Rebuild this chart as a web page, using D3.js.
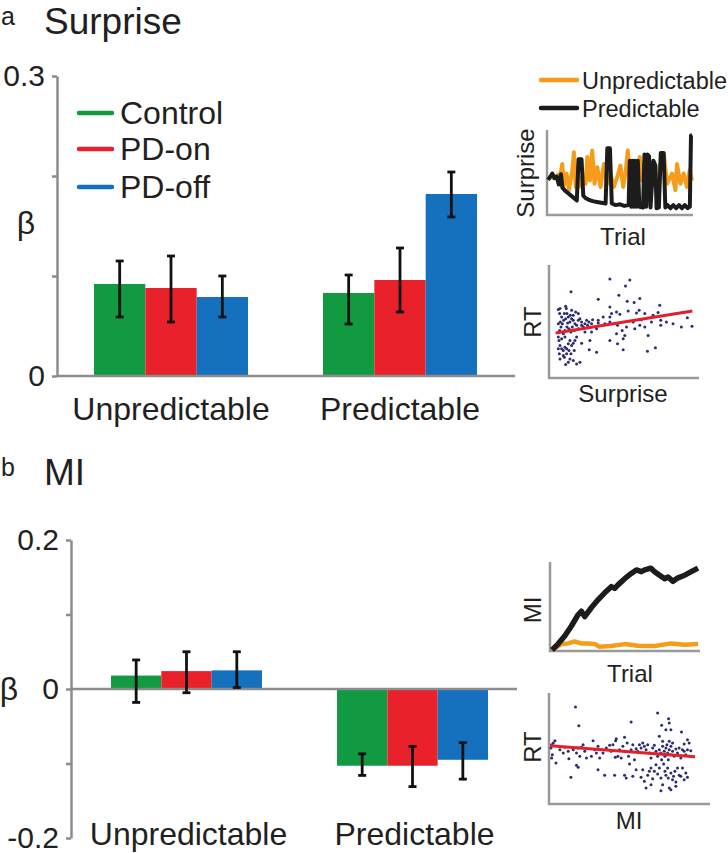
<!DOCTYPE html>
<html lang="en">

<head>
  <meta charset="UTF-8">
  <script src="https://cdn.jsdelivr.net/npm/d3@7"></script>
  <title>Surprise and MI</title>
  <style>
    body { margin: 0; background: #fff; }
    svg { display: block; font-family: "Liberation Sans", Arial, sans-serif; }
    text { fill: #231f20; }
  </style>
</head>

<body>
  <svg width="728" height="853"></svg>
  <script>
    var groups = ["Control", "PD-on", "PD-off"];
    var conditions = ["Unpredictable", "Predictable"];
    var groupColors = ["#129a42", "#e8212a", "#1571bd"];

    // beta per condition (rows) and group (cols), with error bar ends
    var surpriseBeta = [[0.092, 0.088, 0.079], [0.083, 0.096, 0.182]];
    var surpriseLow = [[0.059, 0.054, 0.059], [0.052, 0.064, 0.159]];
    var surpriseHigh = [[0.115, 0.120, 0.100], [0.101, 0.128, 0.204]];
    var surpriseTicks = [0, 0.1, 0.2, 0.3];
    var surpriseTickLabels = [0, 0.3];

    var miBeta = [[0.018, 0.024, 0.025], [-0.103, -0.103, -0.095]];
    var miLow = [[-0.018, -0.005, 0.002], [-0.116, -0.131, -0.121]];
    var miHigh = [[0.039, 0.050, 0.050], [-0.087, -0.077, -0.072]];
    var miTicks = [-0.2, -0.1, 0, 0.1, 0.2];
    var miTickLabels = [-0.2, 0, 0.2];

    // example surprise trace (trial 0-100, surprise 0-1)
    var surpUnpTrial = [0, 4.2, 8.8, 9.9, 11.1, 12.9, 14.5, 16.9, 18, 19.2, 20.3, 21.5, 23.8, 26.1, 27.3, 29.1, 30.7, 32.3, 34.2, 36.5, 38.8, 41.1, 43.4, 45.7, 48, 50.3, 52.2, 53.8, 55.4, 57.3, 59.6, 61.9, 63.7, 65.4, 66.5, 68.8, 71.1, 73.4, 75.8, 78.1, 80.4, 82.7, 86.1, 88.5, 89.6, 91.9, 94.2, 96.5, 98.4, 100];
    var surpUnpVal = [0.45, 0.45, 0.50, 0.62, 0.35, 0.50, 0.29, 0.54, 0.77, 0.33, 0.58, 0.33, 0.45, 0.37, 0.71, 0.41, 0.79, 0.37, 0.58, 0.33, 0.62, 0.37, 0.50, 0.33, 0.45, 0.60, 0.33, 0.50, 0.79, 0.33, 0.45, 0.33, 0.71, 0.41, 0.62, 0.33, 0.50, 0.37, 0.29, 0.62, 0.75, 0.37, 0.50, 0.29, 0.62, 0.37, 0.50, 0.33, 0.54, 0.41];
    var surpPredTrial = [0, 2, 3, 4.5, 6, 7.5, 9, 10, 12, 14, 16, 18, 20, 21.2, 23.3, 24.5, 26, 28, 31, 34, 37, 40, 41.2, 43, 44.3, 47, 50, 53, 56, 56.8, 57.8, 58.6, 59.6, 60.4, 61.4, 62.4, 63.4, 66, 67, 68.2, 69, 70.2, 71.2, 73.2, 74.6, 75.4, 77, 78.3, 80.3, 81.5, 83, 85, 87, 89, 91, 93, 95, 97, 98.5, 99.3, 100];
    var surpPredVal = [0.42, 0.47, 0.50, 0.44, 0.46, 0.36, 0.49, 0.32, 0.28, 0.25, 0.22, 0.19, 0.16, 0.68, 0.68, 0.22, 0.19, 0.17, 0.15, 0.14, 0.13, 0.12, 0.82, 0.82, 0.12, 0.10, 0.11, 0.09, 0.10, 0.66, 0.08, 0.66, 0.08, 0.66, 0.08, 0.66, 0.08, 0.07, 0.74, 0.08, 0.74, 0.72, 0.07, 0.66, 0.60, 0.06, 0.07, 0.76, 0.76, 0.07, 0.10, 0.06, 0.10, 0.06, 0.10, 0.06, 0.10, 0.06, 0.08, 0.98, 0.98];

    // example MI trace
    var miPredTrial = [0, 4.1, 8.7, 13.2, 17.8, 20.1, 22.4, 26.9, 31.5, 36.1, 40.6, 42.9, 45.2, 49.8, 54.3, 57.8, 61.2, 63.5, 67.6, 70.3, 73.7, 77.2, 79.5, 82.9, 86.3, 90.9, 95.4, 100];
    var miPredVal = [0, 0.067, 0.16, 0.27, 0.40, 0.44, 0.38, 0.48, 0.57, 0.65, 0.72, 0.70, 0.74, 0.81, 0.87, 0.91, 0.89, 0.91, 0.93, 0.89, 0.85, 0.81, 0.83, 0.78, 0.82, 0.85, 0.89, 0.93];
    var miUnpTrial = [0, 6.4, 11, 15.5, 20.1, 24.7, 29.2, 32.6, 40.6, 49.8, 58.9, 70.3, 81.7, 90.9, 100];
    var miUnpVal = [0, 0.067, 0.075, 0.097, 0.075, 0.075, 0.067, 0.037, 0.045, 0.067, 0.049, 0.045, 0.075, 0.06, 0.067];

    // RT vs surprise scatter (arbitrary units)
    var scatSurpX = [183, 243, 230, 66, 210, 148, 235, 256, 273, 333, 183, 203, 213, 238, 263, 271, 288, 313, 328, 336, 353, 373, 398, 416, 430, 288, 273, 258, 233, 220, 206, 183, 183, 168, 163, 148, 143, 128, 123, 121, 143, 183, 203, 206, 223, 228, 223, 298, 296, 320, 336, 253, 278, 308, 188, 148, 131, 113, 108, 103, 98, 93, 83, 73, 63, 58, 50, 46, 33, 31, 28, 33, 38, 43, 48, 53, 58, 63, 68, 73, 78, 83, 60, 66, 76, 53, 43, 30, 38, 48, 28, 32, 36, 40, 44, 50, 54, 58, 63, 68, 73, 78, 83, 88, 93, 98, 88, 76, 70, 66, 60, 54, 48, 43, 34, 38, 32, 28, 33, 50, 52, 68, 80, 88, 56, 64, 73, 46, 98, 108, 116, 120, 128, 28];
    var scatSurpRT = [295, 292, 274, 257, 247, 235, 229, 225, 237, 217, 212, 197, 190, 200, 194, 202, 192, 187, 195, 172, 167, 162, 152, 180, 154, 152, 157, 147, 152, 142, 157, 167, 182, 162, 182, 164, 147, 137, 112, 84, 77, 112, 132, 102, 117, 127, 84, 127, 80, 90, 157, 167, 174, 167, 192, 172, 174, 172, 162, 152, 104, 47, 42, 52, 57, 47, 40, 62, 57, 72, 87, 97, 87, 82, 92, 87, 102, 112, 97, 104, 112, 122, 82, 72, 82, 72, 67, 112, 117, 122, 122, 142, 152, 162, 172, 177, 192, 182, 167, 177, 172, 162, 157, 172, 177, 167, 147, 142, 152, 137, 147, 152, 142, 132, 167, 182, 192, 204, 207, 214, 207, 202, 197, 192, 164, 187, 187, 192, 157, 137, 157, 167, 162, 162];
    var fitSurpX = [20, 431];
    var fitSurpRT = [134, 200];

    // RT vs MI scatter (arbitrary units)
    var scatMiX = [80, 328, 248, 90, 340, 361, 363, 353, 368, 400, 333, 343, 363, 373, 418, 408, 423, 203, 201, 228, 133, 18, 13, 8, 6, 10, 8, 21, 33, 43, 48, 58, 60, 73, 83, 88, 93, 98, 103, 108, 113, 128, 138, 143, 148, 153, 163, 173, 183, 188, 193, 200, 208, 213, 218, 223, 228, 236, 240, 243, 248, 253, 258, 263, 268, 273, 278, 283, 288, 293, 298, 303, 308, 313, 318, 323, 328, 333, 338, 340, 343, 348, 350, 353, 356, 358, 360, 363, 366, 368, 373, 378, 383, 388, 393, 398, 403, 408, 413, 418, 428, 83, 88, 66, 148, 168, 198, 228, 233, 253, 263, 278, 283, 288, 293, 298, 303, 308, 313, 318, 323, 328, 333, 338, 343, 346, 350, 353, 358, 360, 363, 368, 373, 376, 380, 383, 388, 393, 398, 403, 408, 413, 418, 368, 338, 308, 383];
    var scatMiRT = [291, 273, 246, 235, 236, 256, 243, 223, 223, 216, 203, 188, 188, 183, 193, 180, 183, 196, 190, 200, 190, 190, 183, 178, 168, 148, 138, 123, 163, 153, 170, 158, 136, 163, 153, 168, 143, 170, 178, 158, 138, 143, 163, 153, 173, 138, 153, 168, 176, 158, 178, 140, 143, 163, 138, 173, 158, 183, 143, 120, 163, 178, 133, 166, 158, 178, 168, 183, 173, 163, 178, 153, 138, 168, 176, 158, 143, 163, 153, 133, 173, 158, 143, 168, 178, 153, 133, 163, 148, 173, 158, 143, 165, 153, 168, 138, 163, 158, 148, 163, 160, 116, 110, 80, 103, 86, 86, 86, 78, 83, 103, 80, 103, 68, 48, 86, 98, 108, 76, 98, 118, 90, 108, 78, 58, 120, 98, 86, 108, 78, 48, 93, 73, 83, 98, 66, 108, 86, 83, 108, 73, 93, 80, 43, 40, 58, 53];
    var fitMiX = [3, 441];
    var fitMiRT = [175, 142];

    var svg = d3.select("svg");
    var axisGray = "#8c8c8c";

    function barPanel(o) {
      var y = d3.scaleLinear().domain(o.domain).range(o.yRange);
      var x0 = d3.scaleBand().domain(conditions).range(o.xRange)
        .paddingInner(o.padIn).paddingOuter(o.padOut);
      var x1 = d3.scaleBand().domain(groups).range([0, x0.bandwidth()]);

      var bars = svg.append("g");
      conditions.forEach(function (c, ci) {
        groups.forEach(function (g, gi) {
          var v = o.beta[ci][gi];
          bars.append("rect")
            .attr("x", x0(c) + x1(g))
            .attr("y", Math.min(y(v), y(0)))
            .attr("width", x1.bandwidth())
            .attr("height", Math.abs(y(v) - y(0)))
            .attr("fill", groupColors[gi]);
        });
      });

      var axis = d3.axisLeft(y).tickValues(o.ticks).tickSize(5).tickSizeOuter(0).tickPadding(7)
        .tickFormat(function (d) { return o.tickLabels.indexOf(d) >= 0 ? String(d) : ""; });
      var ax = svg.append("g").attr("transform", "translate(" + o.axisX + ",0)").call(axis);
      ax.select(".domain").attr("stroke", axisGray).attr("stroke-width", 2.5);
      ax.selectAll(".tick line").attr("stroke", axisGray).attr("stroke-width", 2.5);
      ax.selectAll(".tick text").attr("font-size", 30).attr("fill", "#231f20")
        .attr("font-family", "Liberation Sans, Arial, sans-serif");

      svg.append("line")
        .attr("x1", o.axisX).attr("x2", o.baseEnd)
        .attr("y1", y(0)).attr("y2", y(0))
        .attr("stroke", axisGray).attr("stroke-width", 2.5);

      var err = svg.append("g").attr("stroke", "#111").attr("stroke-width", 2.8);
      conditions.forEach(function (c, ci) {
        groups.forEach(function (g, gi) {
          var cx = x0(c) + x1(g) + x1.bandwidth() / 2;
          var lo = y(o.low[ci][gi]), hi = y(o.high[ci][gi]);
          err.append("line").attr("x1", cx).attr("x2", cx).attr("y1", lo).attr("y2", hi);
          err.append("line").attr("x1", cx - 4).attr("x2", cx + 4).attr("y1", lo).attr("y2", lo);
          err.append("line").attr("x1", cx - 4).attr("x2", cx + 4).attr("y1", hi).attr("y2", hi);
        });
      });

      conditions.forEach(function (c) {
        svg.append("text")
          .attr("x", x0(c) + x0.bandwidth() / 2 + o.labelShift)
          .attr("y", o.labelY)
          .attr("text-anchor", "middle")
          .attr("font-size", 32)
          .text(c);
      });

      svg.append("text").attr("x", o.betaX).attr("y", o.betaY)
        .attr("text-anchor", "middle").attr("font-size", 32).text("β");
    }

    function title(letter, name, y) {
      svg.append("text").attr("x", 1).attr("y", y - 9).attr("font-size", 25).text(letter);
      svg.append("text").attr("x", 44).attr("y", y).attr("font-size", 37).text(name);
    }

    function axesL(x, top, bottom, right) {
      svg.append("path")
        .attr("d", "M" + x + "," + top + "V" + bottom + "H" + right)
        .attr("fill", "none").attr("stroke", "#9a9a9a").attr("stroke-width", 2.5);
    }

    function sideLabel(text, x, y) {
      svg.append("text")
        .attr("transform", "translate(" + x + "," + y + ") rotate(-90)")
        .attr("text-anchor", "middle").attr("font-size", 24).text(text);
    }

    function bottomLabel(text, x, y) {
      svg.append("text").attr("x", x).attr("y", y)
        .attr("text-anchor", "middle").attr("font-size", 24).text(text);
    }

    function traceInset(o) {
      axesL(o.axisX, o.top, o.bottom, o.right);
      var x = d3.scaleLinear().domain([0, 100]).range(o.xRange);
      var y = d3.scaleLinear().domain([0, 1]).range(o.yRange);
      var line = d3.line().x(function (d) { return x(d[0]); }).y(function (d) { return y(d[1]); });
      svg.append("path").datum(d3.zip(o.unpT, o.unpV)).attr("d", line)
        .attr("fill", "none").attr("stroke", "#f59d1a").attr("stroke-width", o.wUnp)
        .attr("stroke-linejoin", "round");
      svg.append("path").datum(d3.zip(o.predT, o.predV)).attr("d", line)
        .attr("fill", "none").attr("stroke", "#1c1c1c").attr("stroke-width", o.wPred)
        .attr("stroke-linejoin", "round");
    }

    function scatterInset(o) {
      axesL(o.axisX, o.top, o.bottom, o.right);
      var x = d3.scaleLinear().domain(o.xDomain).range([o.axisX, o.right - 1]);
      var y = d3.scaleLinear().domain(o.yDomain).range([o.bottom, o.top]);
      svg.append("g").selectAll("circle")
        .data(d3.zip(o.xs, o.ys))
        .enter().append("circle")
        .attr("cx", function (d) { return x(d[0]); })
        .attr("cy", function (d) { return y(d[1]); })
        .attr("r", 1.5)
        .attr("fill", "#2b2c72");
      svg.append("line")
        .attr("x1", x(o.fitX[0])).attr("y1", y(o.fitY[0]))
        .attr("x2", x(o.fitX[1])).attr("y2", y(o.fitY[1]))
        .attr("stroke", "#e3202a").attr("stroke-width", 3);
    }

    // ---- panel a ----
    title("a", "Surprise", 34);
    barPanel({
      beta: surpriseBeta, low: surpriseLow, high: surpriseHigh,
      domain: [0, 0.3], yRange: [376, 76], ticks: surpriseTicks, tickLabels: surpriseTickLabels,
      xRange: [57, 514], padIn: 0.3275, padOut: 0.1616,
      axisX: 57, baseEnd: 515, labelY: 420, labelShift: 0, betaX: 26, betaY: 234
    });

    // legend
    var legend = svg.append("g");
    groups.forEach(function (g, i) {
      var ly = [113, 149, 187][i];
      legend.append("line").attr("x1", 79).attr("x2", 112).attr("y1", ly).attr("y2", ly)
        .attr("stroke", groupColors[i]).attr("stroke-width", 4.5).attr("stroke-linecap", "round");
      legend.append("text").attr("x", 120).attr("y", ly + 11).attr("font-size", 32).text(g);
    });

    // inset legend
    [["Unpredictable", "#f59d1a", 80], ["Predictable", "#1c1c1c", 108]].forEach(function (d) {
      svg.append("line").attr("x1", 541).attr("x2", 577).attr("y1", d[2]).attr("y2", d[2])
        .attr("stroke", d[1]).attr("stroke-width", 4.5).attr("stroke-linecap", "round");
      svg.append("text").attr("x", 582).attr("y", d[2] + 9).attr("font-size", 23.5).text(d[0]);
    });

    traceInset({
      axisX: 547, top: 130, bottom: 215, right: 693,
      xRange: [548, 692], yRange: [213, 134],
      unpT: surpUnpTrial, unpV: surpUnpVal, predT: surpPredTrial, predV: surpPredVal,
      wUnp: 4, wPred: 4
    });
    sideLabel("Surprise", 534, 173);
    bottomLabel("Trial", 623, 245);

    scatterInset({
      axisX: 549, top: 265, bottom: 378, right: 699,
      xDomain: [0, 448], yDomain: [0, 337],
      xs: scatSurpX, ys: scatSurpRT, fitX: fitSurpX, fitY: fitSurpRT
    });
    sideLabel("RT", 541, 322);
    bottomLabel("Surprise", 623, 402);

    // ---- panel b ----
    title("b", "MI", 485);
    barPanel({
      beta: miBeta, low: miLow, high: miHigh,
      domain: [-0.2, 0.2], yRange: [838, 540], ticks: miTicks, tickLabels: miTickLabels,
      xRange: [71, 528], padIn: 0.332, padOut: 0.177,
      axisX: 71, baseEnd: 517, labelY: 845, labelShift: 2, betaX: 9, betaY: 700
    });

    traceInset({
      axisX: 550, top: 562, bottom: 651, right: 700,
      xRange: [552, 698], yRange: [650, 562],
      unpT: miUnpTrial, unpV: miUnpVal, predT: miPredTrial, predV: miPredVal,
      wUnp: 4.5, wPred: 5.5
    });
    sideLabel("MI", 541, 610);
    bottomLabel("Trial", 630, 682);

    scatterInset({
      axisX: 549, top: 693, bottom: 804, right: 710,
      xDomain: [0, 483], yDomain: [0, 333],
      xs: scatMiX, ys: scatMiRT, fitX: fitMiX, fitY: fitMiRT
    });
    sideLabel("RT", 541, 747);
    bottomLabel("MI", 629, 829);
  </script>
</body>

</html>
